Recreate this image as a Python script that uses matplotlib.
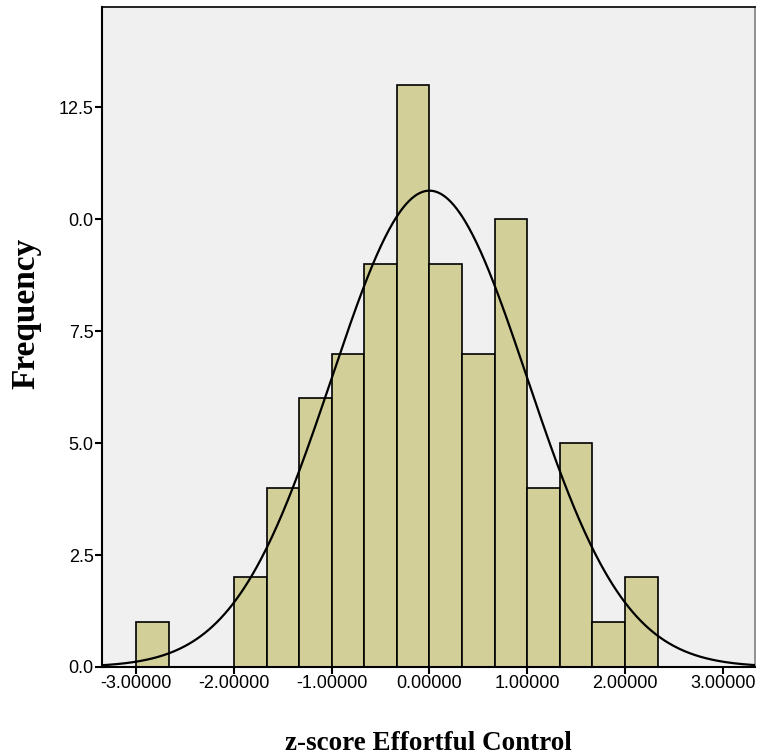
import numpy as np
import matplotlib
matplotlib.use("Agg")
import matplotlib.pyplot as plt

# histogram data (bin width 1/3, starting at -3.0)
bin_edges = [-3.0 + i / 3.0 for i in range(17)]
counts = [1, 0, 0, 2, 4, 6, 7, 9, 13, 9, 7, 10, 4, 5, 1, 2]
n_total = 80
mu, sigma = 0.0, 1.0

xticks = [-3, -2, -1, 0, 1, 2, 3]
xtick_labels = ["-3.00000", "-2.00000", "-1.00000", "0.00000", "1.00000", "2.00000", "3.00000"]
yticks = [0, 2.5, 5, 7.5, 10, 12.5]
ytick_labels = ["0.0", "2.5", "5.0", "7.5", "0.0", "12.5"]

fig = plt.figure(figsize=(7.57, 7.55), dpi=100, facecolor='w')
ax = fig.add_axes([0.1347, 0.1166, 0.8627, 0.8741])
ax.set_facecolor('#f0f0f0')

lefts = np.array(bin_edges[:-1])
widths = np.diff(bin_edges)
for l, w, c in zip(lefts, widths, counts):
    if c > 0:
        ax.bar(l, c, width=w, align='edge', color='#d3cf98', edgecolor='black', linewidth=1.2, zorder=2)

bw = bin_edges[1] - bin_edges[0]
xs = np.linspace(-3.4, 3.4, 500)
ys = n_total * bw / (sigma * np.sqrt(2 * np.pi)) * np.exp(-0.5 * ((xs - mu) / sigma) ** 2)
ax.plot(xs, ys, color='black', linewidth=1.6, zorder=3)

ax.set_xlim(-3.35, 3.33)
ax.set_ylim(0, 14.74)
ax.set_xticks(xticks)
ax.set_xticklabels(xtick_labels, fontsize=13, family='Liberation Sans')
ax.set_yticks(yticks)
ax.set_yticklabels(ytick_labels, fontsize=13, family='Liberation Sans')
ax.tick_params(direction='out', length=5, width=1.5, colors='black', pad=1)

for s in ['left', 'bottom']:
    ax.spines[s].set_linewidth(1.5)
    ax.spines[s].set_color('black')
for s in ['top', 'right']:
    ax.spines[s].set_linewidth(1.2)
    ax.spines[s].set_color('#808080')
ax.spines['top'].set_color('black')

ax.set_xlabel('z-score Effortful Control', fontsize=19.5, fontweight='bold', family='Liberation Serif')
ax.set_ylabel('Frequency', fontsize=24, fontweight='bold', family='Liberation Serif')
ax.xaxis.set_label_coords(0.5, -0.097)
ax.yaxis.set_label_coords(-0.092, 0.536)

plt.savefig('out.png', dpi=100)
